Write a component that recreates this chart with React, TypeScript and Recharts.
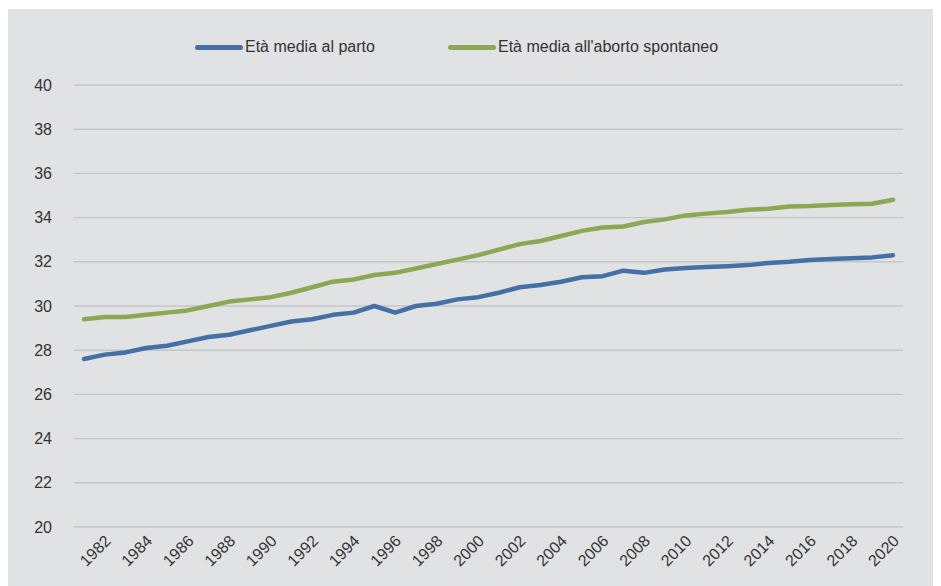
import React from 'react';
import { LineChart, Line, XAxis, YAxis, CartesianGrid, Legend } from 'recharts';

const years = ['1981','1982','1983','1984','1985','1986','1987','1988','1989','1990','1991','1992','1993','1994','1995','1996','1997','1998','1999','2000','2001','2002','2003','2004','2005','2006','2007','2008','2009','2010','2011','2012','2013','2014','2015','2016','2017','2018','2019','2020'];

const etaParto = [27.6, 27.8, 27.9, 28.1, 28.2, 28.4, 28.6, 28.7, 28.9, 29.1, 29.3, 29.4, 29.6, 29.7, 30.0, 29.7, 30.0, 30.1, 30.3, 30.4, 30.6, 30.85, 30.95, 31.1, 31.3, 31.35, 31.6, 31.5, 31.65, 31.72, 31.76, 31.8, 31.85, 31.95, 32.0, 32.08, 32.13, 32.16, 32.2, 32.3];

const etaAborto = [29.4, 29.5, 29.5, 29.6, 29.7, 29.8, 30.0, 30.2, 30.3, 30.4, 30.6, 30.85, 31.1, 31.2, 31.4, 31.5, 31.7, 31.9, 32.1, 32.3, 32.55, 32.8, 32.94, 33.17, 33.4, 33.55, 33.6, 33.8, 33.92, 34.1, 34.18, 34.25, 34.36, 34.4, 34.5, 34.52, 34.57, 34.6, 34.63, 34.81];

const xTickLabels = ['1982','1984','1986','1988','1990','1992','1994','1996','1998','2000','2002','2004','2006','2008','2010','2012','2014','2016','2018','2020'];
const yTicks = [20, 22, 24, 26, 28, 30, 32, 34, 36, 38, 40];

const seriesNames = ['Età media al parto', "Età media all'aborto spontaneo"];
const BLUE = '#4570a6';
const GREEN = '#8ba853';
const TEXT = '#333333';
const FONT = '"Liberation Sans", Arial, sans-serif';

const data = years.map((y, i) => ({ year: y, parto: etaParto[i], aborto: etaAborto[i] }));

const XTick = (props: any) => {
  const { x, y, payload } = props;
  return (
    <g transform={`translate(${x + 7},${y + 7})`}>
      <text transform="rotate(-45)" textAnchor="end" fill={TEXT} fontSize={16} fontFamily={FONT}>
        {payload.value}
      </text>
    </g>
  );
};

const LegendContent = () => {
  const items = [
    { name: seriesNames[0], color: BLUE, left: 187 },
    { name: seriesNames[1], color: GREEN, left: 440 },
  ];
  return (
    <div style={{ position: 'relative', height: 60, width: 933 }}>
      {items.map((it) => (
        <div key={it.name} style={{ position: 'absolute', left: it.left, top: 12, display: 'flex', alignItems: 'center', height: 20 }}>
          <div style={{ width: 48, height: 5, borderRadius: 3, background: it.color, marginRight: 2 }} />
          <span style={{ fontFamily: FONT, fontSize: 16, color: TEXT, whiteSpace: 'nowrap' }}>{it.name}</span>
        </div>
      ))}
    </div>
  );
};

export default function App() {
  return (
    <div style={{ width: 933, height: 577, background: '#e1e2e4', marginTop: 1 }}>
      <LineChart width={933} height={577} data={data} margin={{ top: 16, right: 38, bottom: 0, left: 0 }}>
        <CartesianGrid horizontal vertical={false} stroke="#c5c6c8" strokeWidth={1.4} />
        <Legend verticalAlign="top" align="left" height={60} content={<LegendContent />} wrapperStyle={{ left: 0, width: 933 }} />
        <XAxis
          dataKey="year"
          ticks={xTickLabels}
          interval={0}
          axisLine={false}
          tickLine={false}
          height={59}
          padding={{ left: 10, right: 10 }}
          tick={<XTick />}
        />
        <YAxis
          domain={[20, 40]}
          ticks={yTicks}
          width={66}
          axisLine={false}
          tickLine={false}
          tickMargin={16}
          tick={{ fill: TEXT, fontSize: 16, fontFamily: FONT }}
        />
        <Line dataKey="aborto" name={seriesNames[1]} stroke={GREEN} strokeWidth={4.5} dot={false} strokeLinecap="round" strokeLinejoin="round" isAnimationActive={false} />
        <Line dataKey="parto" name={seriesNames[0]} stroke={BLUE} strokeWidth={4.5} dot={false} strokeLinecap="round" strokeLinejoin="round" isAnimationActive={false} />
      </LineChart>
    </div>
  );
}
